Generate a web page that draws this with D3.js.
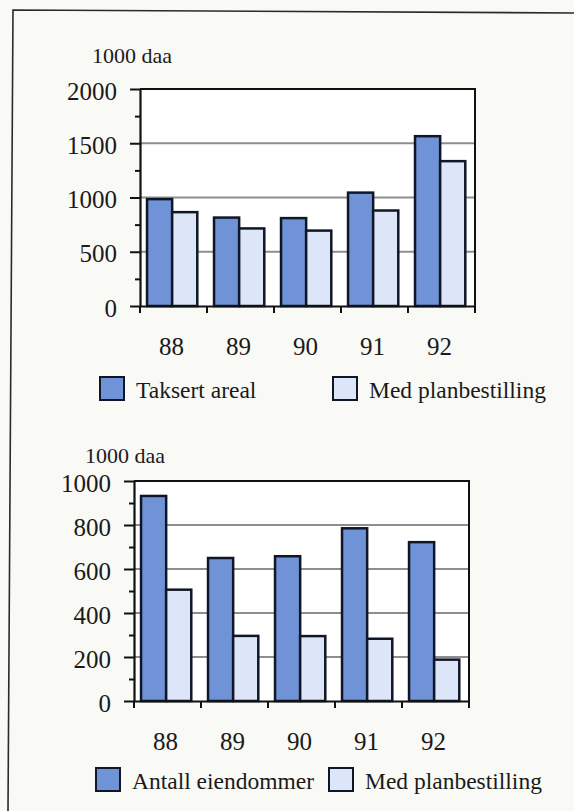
<!DOCTYPE html>
<html>
<head>
<meta charset="utf-8">
<script src="https://cdn.jsdelivr.net/npm/d3@7"></script>
<style>
  html, body { margin: 0; padding: 0; background: #f9f9f5; }
  svg { display: block; }
  svg text { font-family: "Liberation Serif", "Noto Serif", "DejaVu Serif", "FreeSerif", "Nimbus Roman", "Times", serif !important; fill: #1a1a1a; }
</style>
</head>
<body>
<script>
// ---- data ----
const categories = ["88", "89", "90", "91", "92"];
const taksertAreal = [985, 815, 810, 1045, 1565];
const medPlanbestillingAreal = [865, 715, 695, 880, 1335];
const antallEiendommer = [932, 650, 658, 785, 722];
const medPlanbestillingAntall = [506, 296, 295, 283, 188];
const topTicks = [0, 500, 1000, 1500, 2000];
const topMinorTicks = [250, 750, 1250, 1750];
const bottomTicks = [0, 200, 400, 600, 800, 1000];
const bottomMinorTicks = [100, 300, 500, 700, 900];
const unitLabel = "1000 daa";
const topLegend = ["Taksert areal", "Med planbestilling"];
const bottomLegend = ["Antall eiendommer", "Med planbestilling"];

const W = 574, H = 811;
const DARK = "#7093d7", LIGHT = "#dde6f8", STROKE = "#0f1626", GRID = "#8e8e8e";
const FONT = "'Liberation Serif', 'Noto Serif', 'DejaVu Serif', 'FreeSerif', serif";

const svg = d3.select("body").append("svg").attr("width", W).attr("height", H)
  .attr("font-family", FONT);

// page frame (scanned page edge)
svg.append("path")
  .attr("d", d3.line()([[574, 13], [13, 10], [8, 811]]))
  .attr("fill", "none").attr("stroke", "#2a2a2a").attr("stroke-width", 1.6);

function drawChart(cfg) {
  const { left, right, top, bottom, max, ticks, minor, a, b, legend, unitX, unitY, legendY, legendX } = cfg;
  const g = svg.append("g");
  const x = d3.scaleBand().domain(categories).range([left, right]).padding(0);
  const y = d3.scaleLinear().domain([0, max]).range([bottom, top]);
  const bw = x.bandwidth();
  const sub = d3.scaleBand().domain([0, 1]).range([bw * 0.105, bw * 0.855]).padding(0);

  g.append("rect").attr("x", left).attr("y", top).attr("width", right - left).attr("height", bottom - top)
    .attr("fill", "#ffffff");

  g.selectAll(".grid").data(ticks.filter(t => t > 0 && t < max)).join("line")
    .attr("x1", left).attr("x2", right).attr("y1", d => y(d)).attr("y2", d => y(d))
    .attr("stroke", GRID).attr("stroke-width", 2);

  g.append("path")
    .attr("d", d3.line()([[left, top], [right, top], [right, bottom]]))
    .attr("fill", "none").attr("stroke", "#111").attr("stroke-width", 2);

  const rows = categories.map((c, i) => ({ c, vals: [a[i], b[i]] }));
  const grp = g.selectAll(".grp").data(rows).join("g").attr("transform", d => `translate(${x(d.c)},0)`);
  grp.selectAll("rect").data(d => d.vals.map((v, k) => ({ v, k }))).join("rect")
    .attr("x", d => sub(d.k)).attr("width", sub.bandwidth())
    .attr("y", d => y(d.v)).attr("height", d => y(0) - y(d.v))
    .attr("fill", d => d.k === 0 ? DARK : LIGHT)
    .attr("stroke", STROKE).attr("stroke-width", 2.5);

  const yAx = g.append("g").attr("transform", `translate(${left},0)`)
    .call(d3.axisLeft(y).tickValues(ticks).tickFormat(d3.format("d")).tickSize(10).tickPadding(13).tickSizeOuter(0));
  yAx.attr("font-family", FONT);
  yAx.select(".domain").attr("stroke", "#111").attr("stroke-width", 2.2);
  yAx.selectAll(".tick line").attr("stroke", "#111").attr("stroke-width", 2);
  yAx.selectAll("text").attr("font-size", 25).attr("dy", "0.4em").attr("fill", "#1a1a1a");
  const yMin = g.append("g").attr("transform", `translate(${left},0)`)
    .call(d3.axisLeft(y).tickValues(minor).tickSize(5).tickFormat(""));
  yMin.select(".domain").remove();
  yMin.selectAll(".tick line").attr("stroke", "#111").attr("stroke-width", 2);

  const xAx = g.append("g").attr("transform", `translate(0,${bottom})`)
    .call(d3.axisBottom(x).tickSize(0).tickPadding(0));
  xAx.attr("font-family", FONT);
  xAx.select(".domain").attr("stroke", "#111").attr("stroke-width", 2.2);
  xAx.selectAll("text").attr("font-size", 25).attr("y", 49).attr("dy", 0).attr("dx", -2).attr("fill", "#1a1a1a");
  const edges = categories.map(c => x(c)).concat([right]);
  xAx.selectAll(".edge").data(edges).join("line")
    .attr("x1", d => d).attr("x2", d => d).attr("y1", 0).attr("y2", 7)
    .attr("stroke", "#111").attr("stroke-width", 2);

  g.append("text").attr("x", unitX).attr("y", unitY).attr("font-size", 22).text(unitLabel);

  legend.forEach((lbl, k) => {
    g.append("rect").attr("x", legendX[k]).attr("y", legendY - 21).attr("width", 24).attr("height", 23)
      .attr("fill", k === 0 ? DARK : LIGHT).attr("stroke", STROKE).attr("stroke-width", 2);
    g.append("text").attr("x", legendX[k] + 36).attr("y", legendY).attr("font-size", 23.5).text(lbl);
  });
}

drawChart({
  left: 140, right: 475, top: 89, bottom: 306, max: 2000,
  ticks: topTicks, minor: topMinorTicks, a: taksertAreal, b: medPlanbestillingAreal,
  legend: topLegend, unitX: 92, unitY: 63, legendY: 398, legendX: [100, 333]
});

drawChart({
  left: 134, right: 469, top: 481, bottom: 701, max: 1000,
  ticks: bottomTicks, minor: bottomMinorTicks, a: antallEiendommer, b: medPlanbestillingAntall,
  legend: bottomLegend, unitX: 85, unitY: 463, legendY: 789, legendX: [96, 329]
});
</script>
</body>
</html>
